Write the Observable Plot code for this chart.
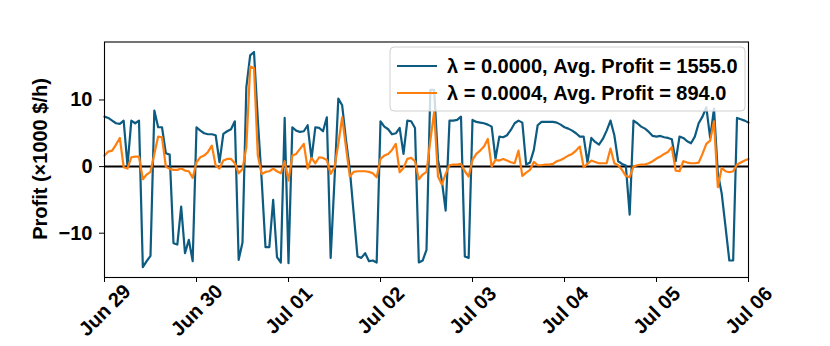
<!DOCTYPE html>
<html><head><meta charset="utf-8">
<script src="https://cdn.jsdelivr.net/npm/d3@7"></script>
<script src="https://cdn.jsdelivr.net/npm/@observablehq/plot@0.6"></script>
<style>
body{margin:0;background:#fff;}
svg{font-family:"Liberation Sans",Arial,sans-serif;}
</style>
</head><body><div id="chart"></div>
<script>
// hourly profit (×1000 $/h) from Jun 29 00:00 to Jul 06 00:00
const startTime = "2024-06-29T00:00:00Z";
const profitLambda0 = [
 7.5,7.3,6.9,6.5,6.4,6.9,0.1,6.9,6.5,6.9,-15.1,-14.2,-13.4,8.4,5.9,5.9,2.0,1.8,-11.5,-11.7,-6.0,-13.0,-11.0,-14.2,
 5.9,5.4,5.0,4.85,4.85,4.7,0.65,4.9,5.3,5.6,6.8,-14.0,-11.4,11.9,16.7,17.2,7.0,-2.0,-12.1,-12.1,-5.0,-13.6,-14.4,7.3,
 -14.5,5.9,5.4,5.2,5.3,6.2,1.15,5.9,5.8,5.3,7.4,-13.7,-2.0,10.2,9.2,4.0,-0.5,-7.0,-13.5,-13.7,-13.0,-14.2,-14.1,-14.4,
 6.8,6.0,5.6,4.85,5.0,5.8,1.9,6.9,6.8,5.8,-14.4,-14.1,-12.5,11.5,11.5,1.0,-2.1,-6.6,6.9,6.9,7.0,7.5,-13.5,-13.7,
 7.0,6.7,6.6,6.5,6.3,6.0,1.15,4.5,4.4,4.7,5.5,6.5,6.9,6.6,0.3,0.6,2.5,6.2,6.7,6.7,6.7,6.7,6.6,6.3,
 5.9,5.7,5.4,5.0,4.5,4.5,0.6,4.3,3.7,3.3,4.15,5.4,6.9,4.7,0.8,0.4,0.15,-7.2,6.9,6.5,6.0,5.7,5.2,4.6,
 4.5,4.6,4.4,4.3,4.1,0.8,4.5,4.3,3.8,3.5,4.5,6.5,7.5,8.9,4.3,8.7,-1.0,-4.0,-9.0,-14.1,-14.1,7.3,7.1,6.9,
 6.6
];
const profitLambda4 = [
 1.65,2.25,2.4,3.3,4.3,-0.1,-0.3,1.4,1.5,1.5,-1.9,-1.2,-0.8,1.9,4.5,4.4,0.0,-0.35,-0.5,-0.5,-0.3,-0.6,-0.7,-1.7,
 0.65,1.4,1.65,2.2,3.15,0.15,-0.3,0.9,1.15,1.15,0.5,-1.0,-0.35,2.9,15.0,14.8,1.65,-1.1,-0.8,-0.7,-0.3,-0.7,-1.0,0.8,
 -2.1,1.65,1.9,2.65,3.4,-0.3,1.3,0.5,1.4,1.3,1.0,-1.1,-0.1,3.4,7.4,2.9,-1.5,-0.8,-0.7,-0.7,-0.7,-0.8,-1.0,-1.6,
 1.15,1.65,1.9,2.5,3.4,-0.85,-0.2,1.15,1.3,0.8,-1.9,-1.2,-0.8,3.9,8.2,-1.5,-2.7,-1.1,0.2,0.3,0.3,0.4,-0.7,-1.5,
 1.0,1.9,2.4,3.0,4.15,0.0,1.0,0.9,1.15,0.9,0.65,0.5,2.4,-1.4,-0.9,-0.5,0.7,0.2,0.2,0.3,0.3,0.4,0.8,1.0,
 1.3,1.65,1.9,2.4,3.0,-0.1,0.4,0.9,0.7,0.5,0.5,0.5,2.7,0.5,0.2,-0.5,-1.4,-1.6,0.0,0.2,0.3,0.3,0.5,0.8,
 1.2,1.5,1.9,2.2,2.9,-0.6,-0.7,0.8,0.6,0.5,0.5,0.6,1.9,3.4,3.9,6.8,-3.1,-0.2,-0.7,-0.85,-0.7,0.3,0.6,0.9,
 1.15
];
const seriesLabels = ["λ = 0.0000, Avg. Profit = 1555.0", "λ = 0.0004, Avg. Profit = 894.0"];
const seriesColors = ["#0d5b80", "#ff7f0e"];
const tickDates = ["2024-06-29","2024-06-30","2024-07-01","2024-07-02","2024-07-03","2024-07-04","2024-07-05","2024-07-06"];
const tickLabels = ["Jun 29","Jun 30","Jul 01","Jul 02","Jul 03","Jul 04","Jul 05","Jul 06"];
const yTicks = [-10, 0, 10];
const yTickLabels = ["−10", "0", "10"];
const yLabel = "Profit (×1000 $/h)";

const FS = 20;
const t0 = new Date(startTime).getTime();
const toRows = (arr) => arr.map((v, i) => ({t: new Date(t0 + i * 3600e3), v}));
const rows0 = toRows(profitLambda0);
const rows4 = toRows(profitLambda4);
const ticks = tickDates.map((d, i) => ({d: new Date(d + "T00:00:00Z"), label: tickLabels[i]}));

const chart = Plot.plot({
  width: 830,
  height: 346,
  marginLeft: 104,
  marginRight: 82,
  marginTop: 41.5,
  marginBottom: 69,
  style: {fontFamily: "'Liberation Sans', Arial, sans-serif", background: "#fff"},
  x: {type: "utc", domain: [ticks[0].d, ticks[ticks.length - 1].d]},
  y: {domain: [-16.65, 18.7]},
  marks: [
    Plot.ruleY([0], {stroke: "black", strokeWidth: 2}),
    Plot.line(rows0, {x: "t", y: "v", stroke: seriesColors[0], strokeWidth: 2.2}),
    Plot.line(rows4, {x: "t", y: "v", stroke: seriesColors[1], strokeWidth: 2.2}),
    Plot.frame({stroke: "black", strokeWidth: 1.1}),
    Plot.axisY(yTicks, {tickSize: 5, tickPadding: 7, tickFormat: (d) => yTickLabels[yTicks.indexOf(d)], fontSize: FS, fontWeight: "bold", label: null, stroke: "black", color: "black"}),
    Plot.axisX(ticks.map(d => d.d), {tickSize: 5, tickFormat: () => "", label: null, stroke: "black"})
  ]
});
document.getElementById("chart").appendChild(chart);

const svg = d3.select(chart);
const xs = chart.scale("x");

// rotated x tick labels, centred under each tick (matplotlib style)
const xl = svg.append("g").attr("font-size", FS).attr("font-weight", "bold").attr("fill", "black");
ticks.forEach(t => {
  const cx = xs.apply(t.d) + 0.5, cy = 310;
  xl.append("text").attr("transform", `translate(${cx},${cy}) rotate(-45)`)
    .attr("text-anchor", "middle").attr("dy", "0.35em").text(t.label);
});

// y axis label
svg.append("text").attr("transform", "translate(40,159) rotate(-90)")
  .attr("text-anchor", "middle").attr("dy", "0.35em")
  .attr("font-size", FS).attr("font-weight", "bold").attr("fill", "black").text(yLabel);

// legend (upper right, inside the axes)
const lg = svg.append("g");
lg.append("rect").attr("x", 390).attr("y", 47).attr("width", 355).attr("height", 64)
  .attr("rx", 4).attr("fill", "white").attr("fill-opacity", 0.8).attr("stroke", "#d0d0d0");
seriesLabels.forEach((lab, i) => {
  const y = 66 + i * 27;
  lg.append("line").attr("x1", 397).attr("x2", 437).attr("y1", y).attr("y2", y)
    .attr("stroke", seriesColors[i]).attr("stroke-width", 2.2);
  lg.append("text").attr("x", 447).attr("y", y).attr("dy", "0.35em").attr("text-anchor", "start")
    .attr("font-size", FS).attr("font-weight", "bold").attr("fill", "black").text(lab);
});
</script>
</body></html>
